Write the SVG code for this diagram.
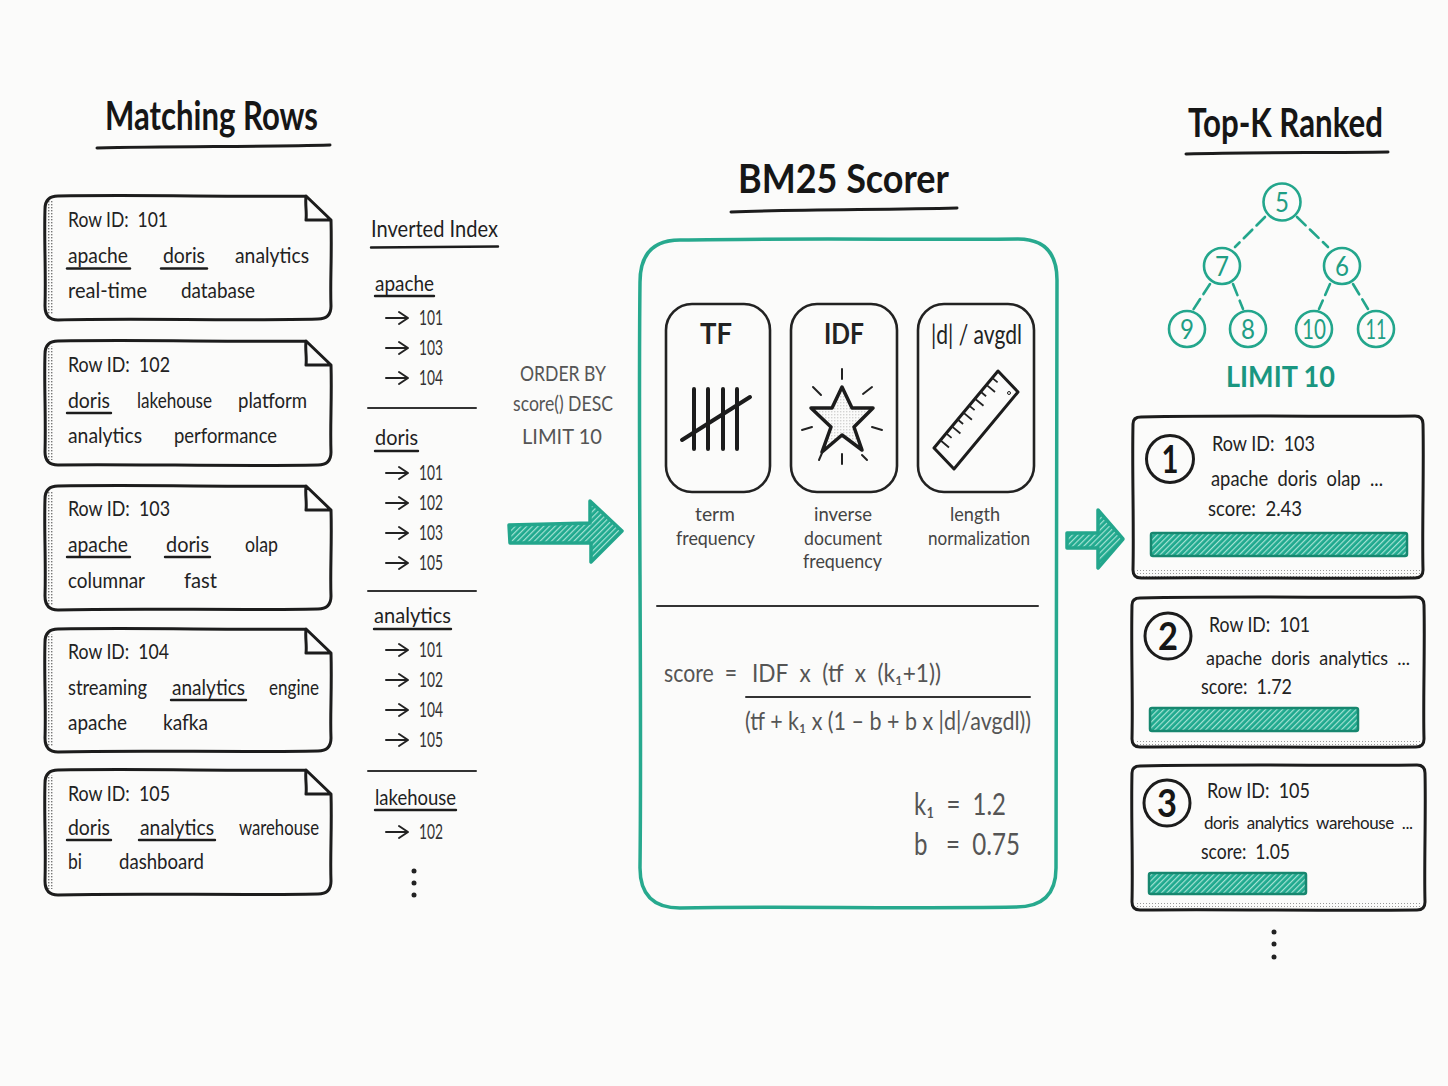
<svg xmlns="http://www.w3.org/2000/svg" width="1448" height="1086" viewBox="0 0 1448 1086">
<style>
text{font-family:"Lato","Noto Sans",sans-serif;fill:#1a1a1a;white-space:pre}
.t{font-size:21px;fill:#222}
.s{font-size:19px;fill:#222}
.xs{font-size:17px;fill:#222}
.title{font-size:40px;font-weight:700;fill:#161616}
.head{font-size:24px;fill:#1f1f1f}
.idx{font-size:22px;fill:#1f1f1f}
.num{font-size:21px;fill:#333}
.side{font-size:21px;fill:#555}
.lab{font-size:20px;fill:#444}
.card{font-size:28px;font-weight:700;fill:#222}
.fx{font-size:25px;fill:#555}
.par{font-size:30px;fill:#555}
.h{font-size:27px;fill:#1f9e84;text-anchor:middle}
.limit{font-size:28px;font-weight:700;fill:#1a9680}
.rank{font-size:38px;font-weight:700;fill:#161616;text-anchor:middle}
.ln{fill:none;stroke:#1c1c1c;stroke-width:3;stroke-linecap:round;stroke-linejoin:round}
.cc{fill:none;stroke:#222;stroke-width:2.6}
.u{fill:none;stroke:#1c1c1c;stroke-width:2.4;stroke-linecap:round}
.div{fill:none;stroke:#333;stroke-width:2;stroke-linecap:round}
.gc{fill:#fbfbfa;stroke:#23a68c;stroke-width:2.6}
.ge{fill:none;stroke:#23a68c;stroke-width:2.6;stroke-dasharray:12 6;stroke-linecap:round}
.bar{fill:url(#hatch);stroke:#17876f;stroke-width:2.5}
.arr{fill:url(#hatch);stroke:#23a68c;stroke-width:3.5;stroke-linejoin:round}
</style>
<defs>
<pattern id="hatch" width="4" height="4" patternUnits="userSpaceOnUse" patternTransform="rotate(45)">
<rect width="4" height="4" fill="#1fa98e"/><rect width="1.2" height="4" fill="#a5e3d4"/>
</pattern>
<pattern id="dots" width="3" height="3" patternUnits="userSpaceOnUse">
<rect width="3" height="3" fill="#fbfbfa"/><rect width="1.4" height="1.4" fill="#777"/>
</pattern>
<pattern id="paper" width="3" height="3" patternUnits="userSpaceOnUse">
<rect width="3" height="3" fill="#fbfbfa"/><rect width="1" height="1" fill="#999"/>
</pattern>
<path id="a" d="M0 0H21M13 -6L22 0L13 6" fill="none" stroke="#222" stroke-width="2" stroke-linecap="round" stroke-linejoin="round"/>
</defs>
<rect width="1448" height="1086" fill="#fbfbfa"/>

<g id="titles">
<text class="title" x="105" y="130" textLength="213" lengthAdjust="spacingAndGlyphs">Matching Rows</text>
<path class="ln" d="M97 148C170 146,260 147,330 145"/>
<text class="title" x="738" y="193" textLength="211" lengthAdjust="spacingAndGlyphs">BM25 Scorer</text>
<path class="ln" d="M731 212C800 209,880 210,957 208"/>
<text class="title" x="1188" y="137" textLength="195" lengthAdjust="spacingAndGlyphs">Top-K Ranked</text>
<path class="ln" d="M1186 154C1250 152,1320 153,1388 152"/>
</g>

<g id="row-101">
<rect x="47" y="201" width="6" height="114" fill="url(#dots)"/>
<path class="ln" d="M58 196C140 194.500,230 197,306 196L331 220C332 260,330 280,331 306Q331 319 318 319C240 321,130 318,58 320Q45 320 45 306C46 270,44 240,45 209Q45 196 58 196ZM306 196C305 205,307 212,306 220L331 220"/>
<text class="t" x="68" y="227" textLength="100" lengthAdjust="spacingAndGlyphs">Row ID:  101</text>
<text class="t" x="68" y="263" textLength="60" lengthAdjust="spacingAndGlyphs">apache</text><path class="u" d="M67 268.500H130"/>
<text class="t" x="163" y="263" textLength="42" lengthAdjust="spacingAndGlyphs">doris</text><path class="u" d="M161 268.500H207"/>
<text class="t" x="235" y="263" textLength="74" lengthAdjust="spacingAndGlyphs">analytics</text>
<text class="t" x="68" y="298" textLength="79" lengthAdjust="spacingAndGlyphs">real-time</text>
<text class="t" x="181" y="298" textLength="74" lengthAdjust="spacingAndGlyphs">database</text>
</g>
<g id="row-102">
<rect x="47" y="346" width="6" height="114" fill="url(#dots)"/>
<path class="ln" d="M58 341C140 339.500,230 342,306 341L331 365C332 400,330 425,331 452Q331 465 318 465C240 466.500,130 464,58 465Q45 465 45 452C46 415,44 385,45 354Q45 341 58 341ZM306 341C305 350,307 357,306 365L331 365"/>
<text class="t" x="68" y="372" textLength="102" lengthAdjust="spacingAndGlyphs">Row ID:  102</text>
<text class="t" x="68" y="408" textLength="42" lengthAdjust="spacingAndGlyphs">doris</text><path class="u" d="M67 413H111"/>
<text class="t" x="137" y="408" textLength="75" lengthAdjust="spacingAndGlyphs">lakehouse</text>
<text class="t" x="238" y="408" textLength="69" lengthAdjust="spacingAndGlyphs">platform</text>
<text class="t" x="68" y="443" textLength="74" lengthAdjust="spacingAndGlyphs">analytics</text>
<text class="t" x="174" y="443" textLength="103" lengthAdjust="spacingAndGlyphs">performance</text>
</g>
<g id="row-103">
<rect x="47" y="491" width="6" height="114" fill="url(#dots)"/>
<path class="ln" d="M58 486C140 484.500,230 487,306 486L331 510C332 545,330 570,331 596Q331 609 318 609C240 610.500,130 608,58 610Q45 610 45 596C46 560,44 530,45 499Q45 486 58 486ZM306 486C305 495,307 502,306 510L331 510"/>
<text class="t" x="68" y="516" textLength="102" lengthAdjust="spacingAndGlyphs">Row ID:  103</text>
<text class="t" x="68" y="552" textLength="60" lengthAdjust="spacingAndGlyphs">apache</text><path class="u" d="M67 557H130"/>
<text class="t" x="166" y="552" textLength="43" lengthAdjust="spacingAndGlyphs">doris</text><path class="u" d="M165 557H210"/>
<text class="t" x="245" y="552" textLength="33" lengthAdjust="spacingAndGlyphs">olap</text>
<text class="t" x="68" y="588" textLength="77" lengthAdjust="spacingAndGlyphs">columnar</text>
<text class="t" x="184" y="588" textLength="33" lengthAdjust="spacingAndGlyphs">fast</text>
</g>
<g id="row-104">
<rect x="47" y="634" width="6" height="112" fill="url(#dots)"/>
<path class="ln" d="M58 629C140 627.500,230 630,306 629L331 653C332 690,330 715,331 738Q331 751 318 751C240 752.500,130 750,58 752Q45 752 45 738C46 705,44 675,45 642Q45 629 58 629ZM306 629C305 638,307 645,306 653L331 653"/>
<text class="t" x="68" y="659" textLength="101" lengthAdjust="spacingAndGlyphs">Row ID:  104</text>
<text class="t" x="68" y="695" textLength="79" lengthAdjust="spacingAndGlyphs">streaming</text>
<text class="t" x="172" y="695" textLength="73" lengthAdjust="spacingAndGlyphs">analytics</text><path class="u" d="M171 700H246"/>
<text class="t" x="269" y="695" textLength="50" lengthAdjust="spacingAndGlyphs">engine</text>
<text class="t" x="68" y="730" textLength="59" lengthAdjust="spacingAndGlyphs">apache</text>
<text class="t" x="163" y="730" textLength="45" lengthAdjust="spacingAndGlyphs">kafka</text>
</g>
<g id="row-105">
<rect x="47" y="775" width="6" height="114" fill="url(#dots)"/>
<path class="ln" d="M58 770C140 768.500,230 771,306 770L331 794C332 830,330 855,331 881Q331 894 318 894C240 895.500,130 893,58 895Q45 895 45 881C46 845,44 815,45 783Q45 770 58 770ZM306 770C305 779,307 786,306 794L331 794"/>
<text class="t" x="68" y="801" textLength="102" lengthAdjust="spacingAndGlyphs">Row ID:  105</text>
<text class="t" x="68" y="835" textLength="42" lengthAdjust="spacingAndGlyphs">doris</text><path class="u" d="M67 840H111"/>
<text class="t" x="140" y="835" textLength="74" lengthAdjust="spacingAndGlyphs">analytics</text><path class="u" d="M139 840H215"/>
<text class="t" x="239" y="835" textLength="80" lengthAdjust="spacingAndGlyphs">warehouse</text>
<text class="t" x="68" y="869" textLength="14" lengthAdjust="spacingAndGlyphs">bi</text>
<text class="t" x="119" y="869" textLength="85" lengthAdjust="spacingAndGlyphs">dashboard</text>
</g>

<g id="inverted-index">
<text class="head" x="371" y="237" textLength="127" lengthAdjust="spacingAndGlyphs">Inverted Index</text>
<path class="u" d="M371 247.500L498 246.500"/>
<text class="idx" x="375" y="291" textLength="59" lengthAdjust="spacingAndGlyphs">apache</text><path class="u" d="M375 296H434"/>
<use href="#a" x="386" y="318"/><text class="num" x="419" y="325" textLength="24" lengthAdjust="spacingAndGlyphs">101</text>
<use href="#a" x="386" y="348"/><text class="num" x="419" y="355" textLength="24" lengthAdjust="spacingAndGlyphs">103</text>
<use href="#a" x="386" y="378"/><text class="num" x="419" y="385" textLength="24" lengthAdjust="spacingAndGlyphs">104</text>
<path class="div" d="M368 408H476"/>
<text class="idx" x="375" y="445" textLength="43" lengthAdjust="spacingAndGlyphs">doris</text><path class="u" d="M375 451H418"/>
<use href="#a" x="386" y="473"/><text class="num" x="419" y="480" textLength="24" lengthAdjust="spacingAndGlyphs">101</text>
<use href="#a" x="386" y="503"/><text class="num" x="419" y="510" textLength="24" lengthAdjust="spacingAndGlyphs">102</text>
<use href="#a" x="386" y="533"/><text class="num" x="419" y="540" textLength="24" lengthAdjust="spacingAndGlyphs">103</text>
<use href="#a" x="386" y="563"/><text class="num" x="419" y="570" textLength="24" lengthAdjust="spacingAndGlyphs">105</text>
<path class="div" d="M368 591H476"/>
<text class="idx" x="374" y="623" textLength="77" lengthAdjust="spacingAndGlyphs">analytics</text><path class="u" d="M374 629H451"/>
<use href="#a" x="386" y="650"/><text class="num" x="419" y="657" textLength="24" lengthAdjust="spacingAndGlyphs">101</text>
<use href="#a" x="386" y="680"/><text class="num" x="419" y="687" textLength="24" lengthAdjust="spacingAndGlyphs">102</text>
<use href="#a" x="386" y="710"/><text class="num" x="419" y="717" textLength="24" lengthAdjust="spacingAndGlyphs">104</text>
<use href="#a" x="386" y="740"/><text class="num" x="419" y="747" textLength="24" lengthAdjust="spacingAndGlyphs">105</text>
<path class="div" d="M368 771H476"/>
<text class="idx" x="375" y="805" textLength="81" lengthAdjust="spacingAndGlyphs">lakehouse</text><path class="u" d="M375 810H456"/>
<use href="#a" x="386" y="832"/><text class="num" x="419" y="839" textLength="24" lengthAdjust="spacingAndGlyphs">102</text>
<circle cx="414" cy="871" r="2.500" fill="#222"/><circle cx="414" cy="883" r="2.500" fill="#222"/><circle cx="414" cy="895" r="2.500" fill="#222"/>
</g>

<g id="order-by">
<text class="side" x="520" y="381" textLength="86" lengthAdjust="spacingAndGlyphs">ORDER BY</text>
<text class="side" x="513" y="411" textLength="100" lengthAdjust="spacingAndGlyphs">score() DESC</text>
<text class="side" x="522" y="444" textLength="80" lengthAdjust="spacingAndGlyphs">LIMIT 10</text>
</g>

<g id="connectors">
<path class="arr" d="M509 525L590 523V501L622 531L591 562V543L510 543Z"/>
<path class="arr" d="M1067 533L1098 533V510L1123 539L1098 568V548L1067 548Z"/>
<path class="ge" d="M1265 217L1235 247"/>
<path class="ge" d="M1297 217L1328 247"/>
<path class="ge" d="M1210 284L1193 310"/>
<path class="ge" d="M1233 284L1243 309"/>
<path class="ge" d="M1330 284L1319 309"/>
<path class="ge" d="M1353 284L1368 309"/>
</g>

<g id="bm25-scorer">
<path d="M680 240C800 238,930 240,1018 239Q1057 239 1057 280C1055 450,1058 700,1056 868Q1056 907 1016 907C900 909,780 906,680 908Q640 908 640 868C642 700,638 450,640 282Q640 240 680 240Z" fill="none" stroke="#27a98e" stroke-width="3.500"/>
<path class="div" d="M657 606H1038"/>
<text class="fx" x="664" y="682" textLength="73" lengthAdjust="spacingAndGlyphs">score  =</text>
<text class="fx" x="752" y="682" textLength="189" lengthAdjust="spacingAndGlyphs">IDF  x  (tf  x  (k₁+1))</text>
<path class="div" d="M746 697H1030"/>
<text class="fx" x="745" y="730" textLength="286" lengthAdjust="spacingAndGlyphs">(tf + k₁ x (1 – b + b x |d|/avgdl))</text>
<text class="par" x="914" y="815" textLength="92" lengthAdjust="spacingAndGlyphs">k₁  =  1.2</text>
<text class="par" x="914" y="855" textLength="106" lengthAdjust="spacingAndGlyphs">b   =  0.75</text>
</g>

<g id="tf-card">
<rect x="666" y="304" width="104" height="188" rx="26" class="cc"/>
<text class="card" x="700" y="344" textLength="32" lengthAdjust="spacingAndGlyphs">TF</text>
<path d="M694 389V449M708 389V449M723 389V449M737 389V449M682 440L750 397" fill="none" stroke="#1c1c1c" stroke-width="4" stroke-linecap="round"/>
<text class="lab" x="695" y="521" textLength="40" lengthAdjust="spacingAndGlyphs">term</text>
<text class="lab" x="676" y="545" textLength="79" lengthAdjust="spacingAndGlyphs">frequency</text>
</g>
<g id="idf-card">
<rect x="791" y="304" width="106" height="188" rx="26" class="cc"/>
<text class="card" x="824" y="344" textLength="40" lengthAdjust="spacingAndGlyphs">IDF</text>
<path d="M842 387L852 408H873L854 427L862 450L842 435L822 452L831 427L811 408H832Z" fill="url(#dots)" fill-opacity="0.3" stroke="#1c1c1c" stroke-width="3.500" stroke-linejoin="round"/>
<path d="M842 369V379M863 394L872 387M821 395L813 387M872 427L882 430M812 427L802 430M842 454V464M822 453L819 460M862 455L867 460" fill="none" stroke="#222" stroke-width="2" stroke-linecap="round"/>
<text class="lab" x="814" y="521" textLength="58" lengthAdjust="spacingAndGlyphs">inverse</text>
<text class="lab" x="804" y="545" textLength="78" lengthAdjust="spacingAndGlyphs">document</text>
<text class="lab" x="803" y="568" textLength="79" lengthAdjust="spacingAndGlyphs">frequency</text>
</g>
<g id="length-card">
<rect x="918" y="304" width="116" height="188" rx="26" class="cc"/>
<text x="931" y="344" textLength="91" lengthAdjust="spacingAndGlyphs" style="font-size:26px;fill:#222">|d| / avgdl</text>
<path d="M998 371L1018 392L954 469L934 448Z" fill="none" stroke="#1c1c1c" stroke-width="3" stroke-linejoin="round"/>
<path d="M940.400 440.300L949 447.500M946.200 433.400L951.600 437.900M951.900 426.400L960.400 433.500M957.700 419.500L963.100 424M963.400 412.600L971.900 419.700M969.200 405.600L974.600 410.100M975 398.700L983.500 405.800M980.700 391.800L986.100 396.300M986.500 384.900L995 392M992.200 377.900L997.600 382.400" fill="none" stroke="#222" stroke-width="1.800"/>
<circle cx="1009" cy="393" r="1.500" fill="none" stroke="#222"/>
<text class="lab" x="950" y="521" textLength="50" lengthAdjust="spacingAndGlyphs">length</text>
<text class="lab" x="928" y="545" textLength="102" lengthAdjust="spacingAndGlyphs">normalization</text>
</g>

<g id="heap-5"><circle class="gc" cx="1282" cy="202" r="18.500"/><text class="h" x="1282" y="212" textLength="14" lengthAdjust="spacingAndGlyphs">5</text></g>
<g id="heap-7"><circle class="gc" cx="1222" cy="266" r="18"/><text class="h" x="1222" y="276" textLength="14" lengthAdjust="spacingAndGlyphs">7</text></g>
<g id="heap-6"><circle class="gc" cx="1342" cy="266" r="18"/><text class="h" x="1342" y="276" textLength="14" lengthAdjust="spacingAndGlyphs">6</text></g>
<g id="heap-9"><circle class="gc" cx="1187" cy="329" r="18"/><text class="h" x="1187" y="339" textLength="14" lengthAdjust="spacingAndGlyphs">9</text></g>
<g id="heap-8"><circle class="gc" cx="1248" cy="329" r="18"/><text class="h" x="1248" y="339" textLength="14" lengthAdjust="spacingAndGlyphs">8</text></g>
<g id="heap-10"><circle class="gc" cx="1314" cy="329" r="18"/><text class="h" x="1314" y="339" textLength="24" lengthAdjust="spacingAndGlyphs">10</text></g>
<g id="heap-11"><circle class="gc" cx="1376" cy="329" r="18"/><text class="h" x="1376" y="339" textLength="21" lengthAdjust="spacingAndGlyphs">11</text></g>
<text class="limit" id="limit" x="1226" y="387" textLength="109" lengthAdjust="spacingAndGlyphs">LIMIT 10</text>

<g id="rank-1">
<rect x="1137" y="570" width="283" height="7" fill="url(#paper)"/>
<path class="ln" d="M1141 417C1240 415,1340 417,1415 416Q1423 416 1423 424C1424 470,1422 530,1423 570Q1423 578 1415 578C1320 579,1230 577,1141 578Q1133 578 1133 570C1134 520,1132 470,1133 424Q1133 417 1141 417Z"/>
<circle class="ln" cx="1170" cy="459" r="23.500"/><text class="rank" x="1170" y="473" textLength="17" lengthAdjust="spacingAndGlyphs">1</text>
<text class="t" x="1212" y="451" textLength="103" lengthAdjust="spacingAndGlyphs">Row ID:  103</text>
<text class="t" x="1211" y="486" textLength="172" lengthAdjust="spacingAndGlyphs">apache  doris  olap  ...</text>
<text class="t" x="1208" y="516" textLength="94" lengthAdjust="spacingAndGlyphs">score:  2.43</text>
<rect class="bar" x="1151" y="533" width="256" height="23" rx="2"/>
</g>
<g id="rank-2">
<rect x="1136" y="739" width="285" height="7" fill="url(#paper)"/>
<path class="ln" d="M1140 598C1240 596,1340 598,1416 597Q1424 597 1424 605C1425 650,1423 700,1424 739Q1424 747 1416 747C1320 748,1230 746,1140 747Q1132 747 1132 739C1133 695,1131 650,1132 605Q1132 598 1140 598Z"/>
<circle class="ln" cx="1168" cy="636" r="23"/><text class="rank" x="1168" y="650" textLength="20" lengthAdjust="spacingAndGlyphs">2</text>
<text class="t" x="1209" y="632" textLength="101" lengthAdjust="spacingAndGlyphs">Row ID:  101</text>
<text class="s" x="1206" y="665" textLength="204" lengthAdjust="spacingAndGlyphs">apache  doris  analytics  ...</text>
<text class="t" x="1201" y="694" textLength="91" lengthAdjust="spacingAndGlyphs">score:  1.72</text>
<rect class="bar" x="1150" y="708" width="208" height="23" rx="2"/>
</g>
<g id="rank-3">
<rect x="1136" y="902" width="286" height="7" fill="url(#paper)"/>
<path class="ln" d="M1140 766C1240 764,1340 766,1417 765Q1425 765 1425 773C1426 815,1424 865,1425 902Q1425 910 1417 910C1320 911,1230 909,1140 910Q1132 910 1132 902C1133 860,1131 815,1132 773Q1132 766 1140 766Z"/>
<circle class="ln" cx="1167" cy="803" r="23"/><text class="rank" x="1167" y="817" textLength="20" lengthAdjust="spacingAndGlyphs">3</text>
<text class="t" x="1207" y="798" textLength="103" lengthAdjust="spacingAndGlyphs">Row ID:  105</text>
<text class="xs" x="1204" y="829" textLength="209" lengthAdjust="spacing">doris  analytics  warehouse  ...</text>
<text class="t" x="1201" y="859" textLength="89" lengthAdjust="spacingAndGlyphs">score:  1.05</text>
<rect class="bar" x="1149" y="873" width="157" height="21" rx="2"/>
</g>
<g id="more"><circle cx="1274" cy="932" r="2.500" fill="#222"/><circle cx="1274" cy="944" r="2.500" fill="#222"/><circle cx="1274" cy="957" r="2.500" fill="#222"/></g>
</svg>
